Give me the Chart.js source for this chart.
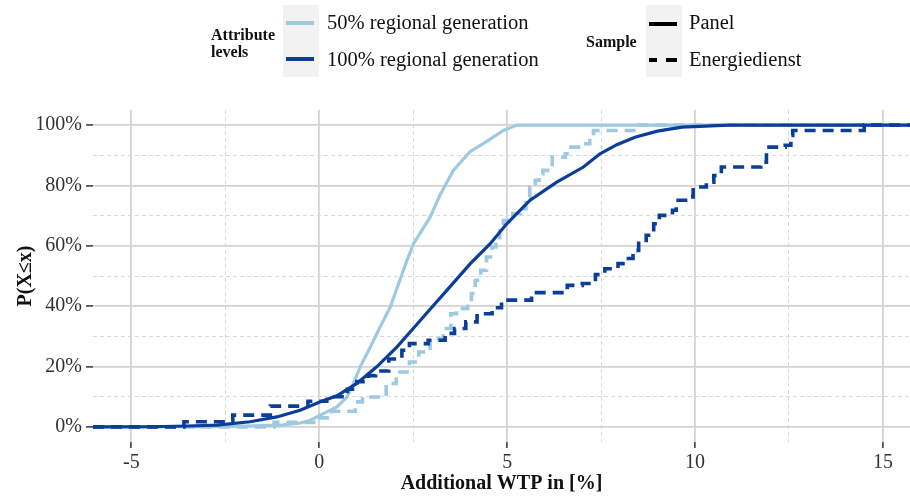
<!DOCTYPE html>
<html><head><meta charset="utf-8">
<script src="https://cdn.jsdelivr.net/npm/chart.js@4"></script>
<style>
html,body{margin:0;padding:0;background:#fff;}
#wrap{position:relative;width:910px;height:496px;overflow:hidden;font-family:"Liberation Serif","Times New Roman",serif;color:#111;}
canvas{position:absolute;left:0;top:0;}
.lg{position:absolute;white-space:nowrap;}
.ttl{font-weight:bold;font-size:16px;line-height:17px;}
.lbl{font-size:20.5px;line-height:20.5px;}
.key{position:absolute;background:#f2f2f2;}
.ln{position:absolute;height:4px;}
</style></head>
<body><div id="wrap">
<canvas id="c" width="910" height="496"></canvas>
<div class="lg ttl" style="left:211px;top:26px;">Attribute<br>levels</div>
<div class="key" style="left:283px;top:5px;width:36px;height:72px;"></div>
<div class="ln" style="left:286px;top:21px;width:28px;background:#9ecae1"></div>
<div class="ln" style="left:286px;top:57px;width:28px;background:#0b3e98"></div>
<div class="lg lbl" style="left:327px;top:12px;">50% regional generation</div>
<div class="lg lbl" style="left:327px;top:49px;">100% regional generation</div>
<div class="lg ttl" style="left:586px;top:33px;">Sample</div>
<div class="key" style="left:646px;top:5px;width:36px;height:72px;"></div>
<div class="ln" style="left:649px;top:22px;width:28px;background:#000"></div>
<div class="ln" style="left:649px;top:58px;width:8px;background:#000"></div>
<div class="ln" style="left:666px;top:58px;width:11px;background:#000"></div>
<div class="lg lbl" style="left:689px;top:12px;">Panel</div>
<div class="lg lbl" style="left:689px;top:49px;">Energiedienst</div>
</div>
<script>
// axis limits and ticks
const X_MIN = -6.02, X_MAX = 15.72;
const Y_MIN = -5, Y_MAX = 105;
const xTickValues = [-5, -2.5, 0, 2.5, 5, 7.5, 10, 12.5, 15];
const xLabelValues = [-5, 0, 5, 10, 15];
const yTickValues = [0, 10, 20, 30, 40, 50, 60, 70, 80, 90, 100];
const yLabelValues = [0, 20, 40, 60, 80, 100];

// 50% regional generation – Panel (ECDF, %)
const xPanel50 = [X_MIN,-3,-2,-1,-0.5,-0.24,0.11,0.47,0.74,0.91,1.09,1.36,1.62,1.89,2.1,2.3,2.51,2.95,3.22,3.57,4.01,4.46,4.9,5.26,X_MAX];
const yPanel50 = [0,0.1,0.3,0.6,1.3,2.2,4.4,6.6,9.9,14.4,19.9,26.5,33.1,39.7,47,54,60.7,69.5,77,85,91.2,94.6,98.2,100,100];

// 100% regional generation – Panel
const xPanel100 = [X_MIN,-4.5,-3.5,-2.72,-1.84,-1.13,-0.51,0.03,0.47,1.0,1.53,2.07,2.6,2.95,3.4,4.02,4.55,4.99,5.61,6.32,7.03,7.47,7.92,8.4,9.0,9.65,10.9,X_MAX];
const yPanel100 = [0,0.05,0.3,0.6,1.7,3.3,5.5,8.3,10.3,14.4,19.9,26.5,34,39,45.3,54.1,60.7,67.3,75.1,81.1,86.1,90.5,93.5,96,98,99.3,100,100];

// 50% regional generation – Energiedienst (step ECDF)
const xEnergie50 = [X_MIN,-1.2,0.0,0.33,0.96,1.15,1.78,2.05,2.4,2.65,2.95,3.3,3.5,3.65,3.95,4.05,4.15,4.3,4.45,4.6,4.7,4.8,4.9,5.15,5.35,5.5,5.6,5.75,5.85,5.95,6.2,6.55,6.7,6.95,7.2,7.3,8.5,X_MAX];
const yEnergie50 = [0,1.5,3,5.2,8.3,9.9,14.4,18.2,21.5,24.8,29.3,32.6,37.5,39.2,41.5,44.2,48.6,51.9,56.3,59.6,61.8,65,68.4,70.7,72.3,76.2,79.5,81.7,83.9,85,89.4,90.5,92.7,93.8,97.2,98.2,100,100];

// 100% regional generation – Energiedienst (step ECDF)
const xEnergie100 = [X_MIN,-3.6,-2.3,-1.3,-0.3,0.2,0.75,1.0,1.3,1.5,1.85,2.2,2.4,2.9,3.35,3.6,3.9,4.2,4.6,4.85,5.65,6.6,7.0,7.35,7.6,7.95,8.15,8.35,8.5,8.7,8.9,9.05,9.4,9.5,9.8,9.95,10.3,10.5,10.7,11.75,11.9,12.4,12.55,12.6,14.5,X_MAX];
const yEnergie100 = [0,1.7,3.9,6.9,8.5,10,12.5,15,17,18.5,22.5,25.4,27.6,28.7,31,32.6,34.8,37.5,39.5,42,44.5,46.9,47.5,50.5,52.4,54.1,55.8,58.5,61.8,63.5,67.3,70.1,71.8,75.1,76.2,79.5,81.1,83.3,86.1,87.7,92.7,93.3,96.6,98.2,100,100];

const LIGHT = '#9ecae1', DARK = '#0b3e98';
const pts = (xs, ys) => xs.map((x, i) => ({x: x, y: ys[i]}));

const isMajorX = v => xLabelValues.includes(v);
const isMajorY = v => yLabelValues.includes(v);

function gridOpts(isMajor) {
  return {
    color: c => (c.tick && isMajor(c.tick.value)) ? '#d3d3d3' : '#d9d9d9',
    lineWidth: c => (c.tick && isMajor(c.tick.value)) ? 1.8 : 1,
    tickColor: c => (c.tick && isMajor(c.tick.value)) ? '#333' : 'rgba(0,0,0,0)',
    tickWidth: 1.5,
    drawTicks: true
  };
}

new Chart(document.getElementById('c'), {
  type: 'scatter',
  data: {
    datasets: [
      {label: '100% Panel', data: pts(xPanel100, yPanel100), borderColor: DARK, borderWidth: 3.2, showLine: true, pointRadius: 0, tension: 0},
      {label: '100% Energiedienst', data: pts(xEnergie100, yEnergie100), borderColor: DARK, borderWidth: 3.6, borderDash: [11, 7], showLine: true, stepped: 'before', pointRadius: 0},
      {label: '50% Panel', data: pts(xPanel50, yPanel50), borderColor: LIGHT, borderWidth: 3.2, showLine: true, pointRadius: 0, tension: 0},
      {label: '50% Energiedienst', data: pts(xEnergie50, yEnergie50), borderColor: LIGHT, borderWidth: 3.6, borderDash: [11, 7], showLine: true, stepped: 'before', pointRadius: 0}
    ]
  },
  options: {
    responsive: false,
    animation: false,
    devicePixelRatio: 1,
    layout: {padding: {top: 110, right: 0, bottom: 0, left: 0}},
    plugins: {legend: {display: false}, tooltip: {enabled: false}},
    scales: {
      x: {
        type: 'linear', min: X_MIN, max: X_MAX,
        afterBuildTicks: s => { s.ticks = xTickValues.map(v => ({value: v})); },
        afterFit: s => { s.height = 54; },
        grid: Object.assign(gridOpts(isMajorX), {tickLength: 6}),
        border: {display: false, dash: c => (c.tick && !isMajorX(c.tick.value)) ? [4, 3] : []},
        ticks: {autoSkip: false, maxRotation: 0, padding: 3, color: '#333',
          font: {family: 'Liberation Serif', size: 20},
          callback: v => isMajorX(v) ? String(v) : ''},
        title: {display: true, text: 'Additional WTP in [%]', color: '#111',
          font: {family: 'Liberation Serif', size: 20, weight: 'bold'}, padding: {top: 0, bottom: 0}}
      },
      y: {
        type: 'linear', min: Y_MIN, max: Y_MAX,
        afterBuildTicks: s => { s.ticks = yTickValues.map(v => ({value: v})); },
        afterFit: s => { s.width = 93; },
        grid: Object.assign(gridOpts(isMajorY), {tickLength: 7}),
        border: {display: false, dash: c => (c.tick && !isMajorY(c.tick.value)) ? [4, 3] : []},
        ticks: {autoSkip: false, padding: 4, color: '#333',
          font: {family: 'Liberation Serif', size: 20},
          callback: v => isMajorY(v) ? v + '%' : ''},
        title: {display: true, text: 'P(X≤x)', color: '#111',
          font: {family: 'Liberation Serif', size: 20, weight: 'bold'}, padding: {top: 14, bottom: 0}}
      }
    }
  }
});
</script>
</body></html>
